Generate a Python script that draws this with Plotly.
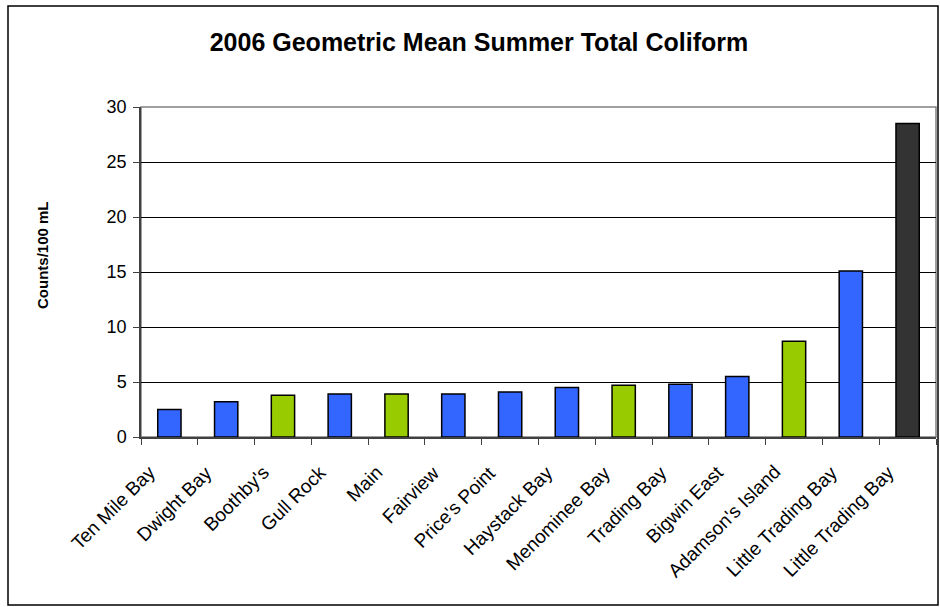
import plotly.graph_objects as go

sites = ["Ten Mile Bay", "Dwight Bay", "Boothby's", "Gull Rock", "Main", "Fairview",
         "Price's Point", "Haystack Bay", "Menominee Bay", "Trading Bay", "Bigwin East",
         "Adamson's Island", "Little Trading Bay", "Little Trading Bay"]
coliform = [2.5, 3.2, 3.8, 3.9, 3.9, 3.9, 4.1, 4.5, 4.7, 4.8, 5.5, 8.7, 15.1, 28.5]
colors = ["#3366FF", "#3366FF", "#99CC00", "#3366FF", "#99CC00", "#3366FF", "#3366FF",
          "#3366FF", "#99CC00", "#3366FF", "#3366FF", "#99CC00", "#3366FF", "#333333"]
y_ticks = [0, 5, 10, 15, 20, 25, 30]

idx = list(range(len(sites)))
bounds = [i - 0.5 for i in range(len(sites) + 1)]

fig = go.Figure(go.Bar(
    x=idx, y=coliform,
    marker=dict(color=colors, line=dict(color="black", width=1.5)),
    width=0.41,
))

FONT = "Liberation Sans, Arial, sans-serif"
W, H = 940, 607
L, R, T, B = 141, 4, 107, 170
pw, ph = W - L - R, H - T - B

fig.update_layout(
    width=W, height=H,
    margin=dict(l=L, r=R, t=T, b=B),
    paper_bgcolor="white", plot_bgcolor="white",
    font=dict(family=FONT, size=17, color="black"),
    showlegend=False,
    title=dict(text="<b>2006 Geometric Mean Summer Total Coliform</b>",
               x=(479 - L) / pw, xref="paper", xanchor="center",
               y=1 - 42 / H, yanchor="middle",
               font=dict(size=25, family=FONT, color="black")),
)

fig.update_xaxes(
    range=[-0.5, len(sites) - 0.5], automargin=False,
    tickmode="array", tickvals=idx, showticklabels=False,
    ticks="", showgrid=False, zeroline=False,
    showline=True, linecolor="#404040", linewidth=1.5,
    minor=dict(tickmode="array", tickvals=bounds, ticks="outside", ticklen=6,
               tickcolor="#404040", tickwidth=1, showgrid=False),
)
fig.update_yaxes(
    range=[0, 30], tickmode="array", tickvals=y_ticks, automargin=False,
    ticks="outside", ticklen=6, tickcolor="#404040", ticklabelstandoff=3,
    showgrid=True, gridcolor="black", gridwidth=1, zeroline=False,
    showline=True, linecolor="#404040", linewidth=1.5,
    tickfont=dict(size=18, family=FONT, color="black"),
)

# category labels, rotated 45 degrees, ending just left of each category centre
for i, name in zip(idx, sites):
    fig.add_annotation(text=name, x=i, y=0, xref="x", yref="y",
                       textangle=-45, xanchor="right", yanchor="top",
                       xshift=-7, yshift=-22, showarrow=False,
                       font=dict(size=19, family=FONT, color="black"))

# plot area border (top/right gray)
fig.add_shape(type="rect", xref="paper", yref="paper", x0=0, x1=1, y0=0, y1=1,
              line=dict(color="#808080", width=1.5), layer="below")
# outer chart border
fig.add_shape(type="rect", xref="paper", yref="paper",
              x0=(8 - L) / pw, x1=(938 - L) / pw,
              y0=(T + ph - 605) / ph, y1=(T + ph - 6) / ph,
              line=dict(color="black", width=1.5))

fig.add_annotation(text="<b>Counts/100 mL</b>", textangle=-90,
                   xref="paper", yref="paper",
                   x=(42 - L) / pw, y=(T + ph - 255) / ph,
                   xanchor="center", yanchor="middle", showarrow=False,
                   font=dict(size=15, family=FONT, color="black"))

fig.write_html("out.html", config={"displayModeBar": False},
               post_script="document.body.style.margin='0px';")
